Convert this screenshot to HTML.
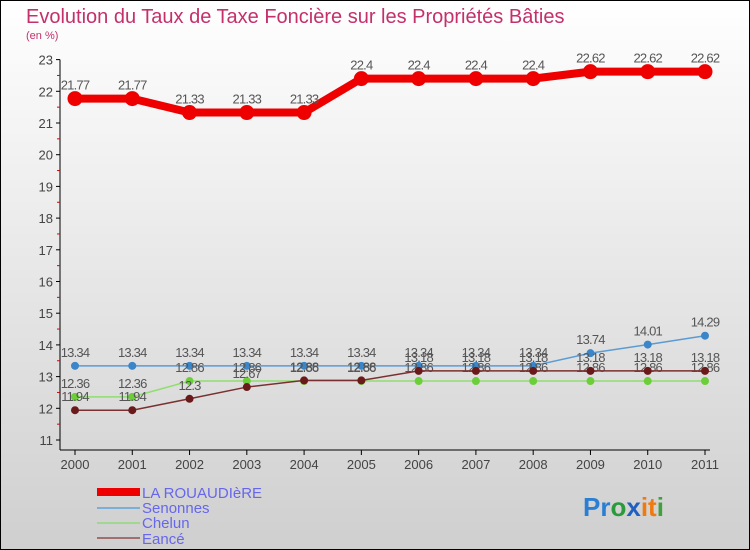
<!DOCTYPE html>
<html><head><meta charset="utf-8"><style>
body{margin:0}
svg{display:block;font-family:"Liberation Sans",sans-serif}
</style></head><body>
<svg width="750" height="550" viewBox="0 0 750 550">
<defs><linearGradient id="bg" x1="0" y1="0" x2="0" y2="1"><stop offset="0" stop-color="#ffffff"/><stop offset="1" stop-color="#cfcfcf"/></linearGradient></defs>
<rect x="0" y="0" width="750" height="550" fill="url(#bg)"/>
<rect x="0.5" y="0.5" width="749" height="549" fill="none" stroke="#000"/>
<text x="26" y="23" font-size="20" fill="#c4306c">Evolution du Taux de Taxe Foncière sur les Propriétés Bâties</text>
<text x="26" y="39" font-size="11" fill="#c4306c">(en %)</text>
<g id="axes"></g>
<g id="series"></g>
<g id="legend">
<rect x="97" y="488" width="43" height="8" fill="#ee0000"/>
<text x="142" y="498" font-size="15" fill="#6666ee">LA ROUAUDIèRE</text>
<line x1="97" y1="508" x2="140" y2="508" stroke="#7ab0d8" stroke-width="2"/>
<text x="142" y="513" font-size="15" fill="#6666ee">Senonnes</text>
<line x1="97" y1="523" x2="140" y2="523" stroke="#a0d890" stroke-width="2"/>
<text x="142" y="528" font-size="15" fill="#6666ee">Chelun</text>
<line x1="97" y1="538" x2="140" y2="538" stroke="#a07070" stroke-width="2"/>
<text x="142" y="544" font-size="15" fill="#6666ee">Eancé</text>
</g>
<g font-size="26" font-weight="bold">
<text x="583" y="516"><tspan fill="#2a7fd4">Pr</tspan><tspan fill="#2a9a3a">o</tspan><tspan fill="#2060c0">x</tspan><tspan fill="#f07a10">it</tspan><tspan fill="#40a040">i</tspan></text>
</g>
</svg>
<script>
const years=["2000","2001","2002","2003","2004","2005","2006","2007","2008","2009","2010","2011"];
const yTicks=[11,12,13,14,15,16,17,18,19,20,21,22,23];
const rouaudiere=[21.77,21.77,21.33,21.33,21.33,22.4,22.4,22.4,22.4,22.62,22.62,22.62];
const senonnes=[13.34,13.34,13.34,13.34,13.34,13.34,13.34,13.34,13.34,13.74,14.01,14.29];
const chelun=[12.36,12.36,12.86,12.86,12.86,12.86,12.86,12.86,12.86,12.86,12.86,12.86];
const eance=[11.94,11.94,12.3,12.67,12.88,12.88,13.18,13.18,13.18,13.18,13.18,13.18];
const NS="http://www.w3.org/2000/svg";
const X=i=>75+i*(705-75)/(years.length-1);
const Y=v=>440-(v-11)*31.7;
function mk(tag,attrs,parent){const e=document.createElementNS(NS,tag);for(const k in attrs)e.setAttribute(k,attrs[k]);parent.appendChild(e);return e;}
const ax=document.getElementById('axes');
let e=mk('line',{x1:60,y1:Y(23),x2:60,y2:450,stroke:'#000'},ax);


e=mk('line',{x1:60,y1:450,x2:710,y2:450,stroke:'#000'},ax);


yTicks.forEach((t,i)=>{
  mk('line',{x1:56,y1:Y(t),x2:60,y2:Y(t),stroke:'#000'},ax);
  if(i<yTicks.length-1)mk('line',{x1:57,y1:Y(t+0.5),x2:60,y2:Y(t+0.5),stroke:'#e00000'},ax);
  const tx=mk('text',{x:53,y:Y(t)+5,'font-size':13,'text-anchor':'end',fill:'#444'},ax);
  tx.textContent=t;
  
  
});
years.forEach((y,i)=>{
  mk('line',{x1:X(i),y1:450,x2:X(i),y2:455,stroke:'#000'},ax);
  const tx=mk('text',{x:X(i),y:469,'font-size':13,'text-anchor':'middle',fill:'#444'},ax);
  tx.textContent=y;
  
  
});
const sg=document.getElementById('series');
function series(data,name,color,lw,r,dot){
  const g=mk('g',{},sg);
  
  
  const p=mk('polyline',{points:data.map((v,i)=>X(i)+','+Y(v)).join(' '),fill:'none',stroke:color,'stroke-width':lw,'stroke-linejoin':'round'},g);
  
  
  data.forEach((v,i)=>{
    const c=mk('circle',{cx:X(i),cy:Y(v),r:r,fill:dot},g);
    
    
    const t=mk('text',{x:X(i),y:Y(v)-9,'font-size':13,'text-anchor':'middle',fill:'#555','letter-spacing':'-0.8'},g);
    t.textContent=v;
    
    
  });
}
series(senonnes,'senonnes','#5b9bd5',1.5,4,'#3a86c8');
series(chelun,'chelun','#90dd70',1.5,4,'#6ccf3a');
series(eance,'eance','#7a3030',1.5,4,'#6a1a1a');
series(rouaudiere,'la-rouaudiere','#ee0000',8,7.5,'#ee0000');
</script>
</body></html>
